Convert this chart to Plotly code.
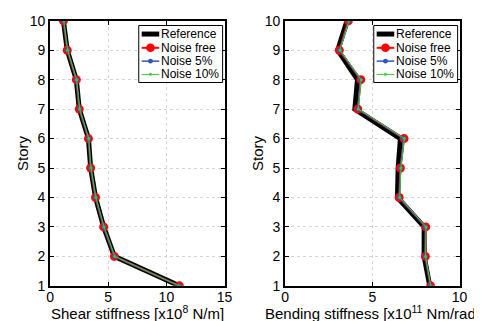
import plotly.graph_objects as go

story = [10, 9, 8, 7, 6, 5, 4, 3, 2, 1]
story_ticks = [1, 2, 3, 4, 5, 6, 7, 8, 9, 10]

# Shear stiffness [x10^8 N/m]
shear_ref = [1.15, 1.48, 2.26, 2.51, 3.30, 3.49, 3.91, 4.61, 5.53, 11.12]
shear_free = [1.15, 1.48, 2.26, 2.51, 3.30, 3.49, 3.91, 4.61, 5.53, 11.12]
shear_n5 = [1.17, 1.50, 2.27, 2.53, 3.31, 3.50, 3.92, 4.62, 5.55, 11.10]
shear_n10 = [1.18, 1.51, 2.29, 2.55, 3.33, 3.52, 3.94, 4.64, 5.57, 11.08]

# Bending stiffness [x10^11 Nm/rad]
bend_ref = [3.55, 3.02, 4.15, 4.00, 6.61, 6.48, 6.44, 7.97, 7.97, 8.29]
bend_free = [3.63, 3.11, 4.34, 4.17, 6.82, 6.61, 6.54, 8.06, 8.04, 8.34]
bend_n5 = [3.68, 3.13, 4.33, 4.18, 6.80, 6.62, 6.55, 8.05, 8.03, 8.33]
bend_n10 = [3.66, 3.15, 4.36, 4.20, 6.84, 6.64, 6.57, 8.08, 8.05, 8.35]

names = ["Reference", "Noise free", "Noise 5%", "Noise 10%"]
colors = ["black", "red", "#3355bb", "#33cc33"]
line_widths = [5, 2, 1.5, 1]
marker_sizes = [0, 9, 5, 3]

x_titles = ["Shear stiffness [x10<sup>8</sup> N/m]",
            "Bending stiffness [x10<sup>11</sup> Nm/rad]"]
y_title = "Story"

FONT = "Liberation Sans, Arial, sans-serif"
W, H = 482, 321

fig = go.Figure()

def add_set(xs, xaxis, yaxis):
    for x, name, c, lw, ms in zip(xs, names, colors, line_widths, marker_sizes):
        fig.add_trace(go.Scatter(
            x=x, y=story, name=name, xaxis=xaxis, yaxis=yaxis, showlegend=False,
            mode="lines+markers" if ms else "lines",
            line=dict(color=c, width=lw),
            marker=dict(color=c, size=ms if ms else 1),
        ))

add_set([shear_ref, shear_free, shear_n5, shear_n10], "x", "y")
add_set([bend_ref, bend_free, bend_n5, bend_n10], "x2", "y2")

def px(x):
    return x / W

def py(y):
    return 1 - y / H

shapes = []
annotations = []

# ---- compact MATLAB-style legends ----
def add_legend(x0, x1, y0, y1):
    shapes.append(dict(type="rect", xref="paper", yref="paper",
                       x0=px(x0), x1=px(x1), y0=py(y1), y1=py(y0),
                       fillcolor="white", line=dict(color="black", width=1), layer="above"))
    row_y = [19, 33.5, 47.5, 61.5]
    for ry, name, c, lw, ms in zip(row_y, names, colors, line_widths, marker_sizes):
        shapes.append(dict(type="line", xref="paper", yref="paper",
                           x0=px(x0 + 3), x1=px(x0 + 21), y0=py(ry), y1=py(ry),
                           line=dict(color=c, width=lw), layer="above"))
        if ms:
            r = ms / 2
            cx = x0 + 12
            shapes.append(dict(type="circle", xref="paper", yref="paper",
                               x0=px(cx - r), x1=px(cx + r), y0=py(ry + r), y1=py(ry - r),
                               fillcolor=c, line=dict(color=c, width=0), layer="above"))
        annotations.append(dict(text=name, xref="paper", yref="paper",
                                x=px(x0 + 21.5), y=py(ry), xanchor="left", yanchor="middle",
                                showarrow=False, borderpad=0,
                                font=dict(size=12, color="black", family=FONT)))

add_legend(130, 216, 10, 70)
add_legend(371, 457, 10, 70)

# ---- axis titles ----
title_font = dict(size=15, color="black", family=FONT)
annotations.append(dict(text=x_titles[0], xref="paper", yref="paper",
                        x=px(128.5), y=py(312), xanchor="center", yanchor="middle",
                        showarrow=False, font=title_font))
annotations.append(dict(text=x_titles[1], xref="paper", yref="paper",
                        x=px(369.5), y=py(312), xanchor="center", yanchor="middle",
                        showarrow=False, font=title_font))
annotations.append(dict(text=y_title, xref="paper", yref="paper",
                        x=px(11), y=py(144.5), xanchor="center", yanchor="middle",
                        textangle=-90, showarrow=False, font=title_font))
annotations.append(dict(text=y_title, xref="paper", yref="paper",
                        x=px(252), y=py(144.5), xanchor="center", yanchor="middle",
                        textangle=-90, showarrow=False, font=title_font))

axis_common = dict(
    showline=True, linecolor="black", linewidth=2, mirror="ticks",
    ticks="inside", ticklen=4, tickcolor="black", tickwidth=1,
    showgrid=True, gridcolor="#d5d5d5", griddash="dot", gridwidth=1,
    zeroline=False, tickfont=dict(size=14, color="black", family=FONT),
    ticklabeloverflow="allow",
)

fig.update_layout(
    width=W, height=H,
    margin=dict(l=0, r=0, t=0, b=0),
    paper_bgcolor="white", plot_bgcolor="white",
    font=dict(family=FONT, color="black"),
    showlegend=False,
    xaxis=dict(domain=[px(39), px(218)], range=[0, 15], tickvals=[0, 5, 10, 15],
               anchor="y", ticklabelstandoff=-3, **axis_common),
    yaxis=dict(domain=[py(284), py(5)], range=[1, 10], tickvals=story_ticks, anchor="x",
               **axis_common),
    xaxis2=dict(domain=[px(280), px(459)], range=[0, 10], tickvals=[0, 5, 10],
                anchor="y2", ticklabelstandoff=-3, **axis_common),
    yaxis2=dict(domain=[py(284), py(5)], range=[1, 10], tickvals=story_ticks, anchor="x2",
                **axis_common),
    shapes=shapes,
    annotations=annotations,
)

fig.write_html("out.html")
